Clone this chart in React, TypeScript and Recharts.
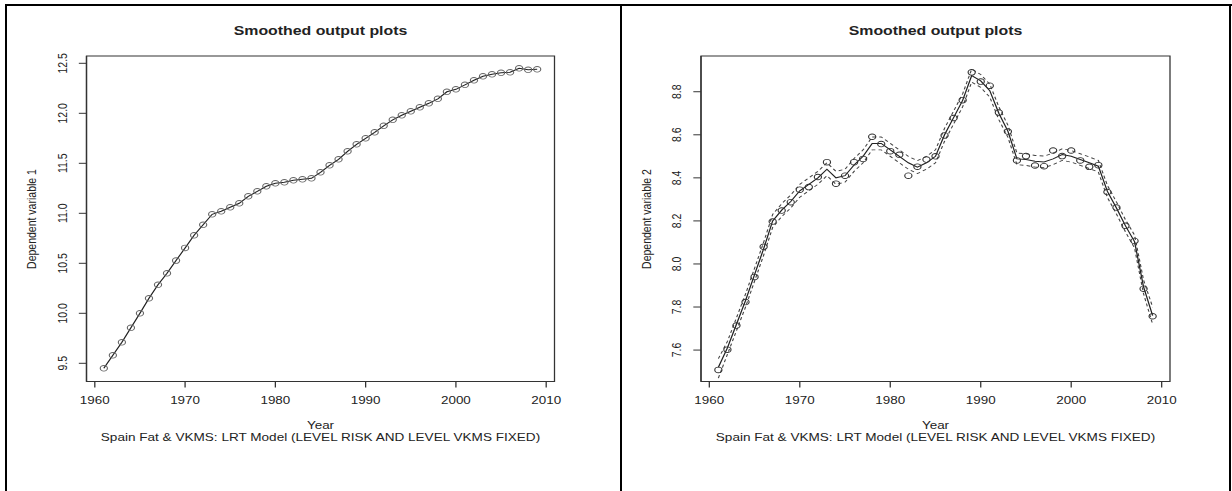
import { ComposedChart, Line, XAxis, YAxis, ReferenceArea } from 'recharts';

// observation years
const years = [
  1961, 1962, 1963, 1964, 1965, 1966, 1967, 1968, 1969, 1970,
  1971, 1972, 1973, 1974, 1975, 1976, 1977, 1978, 1979, 1980,
  1981, 1982, 1983, 1984, 1985, 1986, 1987, 1988, 1989, 1990,
  1991, 1992, 1993, 1994, 1995, 1996, 1997, 1998, 1999, 2000,
  2001, 2002, 2003, 2004, 2005, 2006, 2007, 2008, 2009,
];

// dependent variable 1 (observed ~ smoothed)
const depVar1 = [
  9.45, 9.58, 9.71, 9.855, 10.0, 10.15, 10.285, 10.4, 10.527, 10.654,
  10.78, 10.885, 10.99, 11.02, 11.06, 11.1, 11.17, 11.22, 11.27, 11.3,
  11.31, 11.33, 11.34, 11.35, 11.41, 11.48, 11.54, 11.62, 11.69, 11.75,
  11.81, 11.875, 11.935, 11.98, 12.02, 12.06, 12.1, 12.145, 12.215, 12.24,
  12.285, 12.33, 12.37, 12.39, 12.405, 12.41, 12.45, 12.435, 12.44,
];

// dependent variable 2
const observed2 = [
  7.508, 7.602, 7.714, 7.823, 7.94, 8.08, 8.197, 8.248, 8.287, 8.345,
  8.357, 8.404, 8.473, 8.373, 8.41, 8.473, 8.488, 8.591, 8.557, 8.524,
  8.507, 8.41, 8.452, 8.485, 8.5, 8.597, 8.678, 8.761, 8.89, 8.847,
  8.828, 8.703, 8.615, 8.481, 8.501, 8.457, 8.454, 8.527, 8.501, 8.527,
  8.481, 8.451, 8.459, 8.334, 8.262, 8.177, 8.107, 7.885, 7.757,
];
const smoothed2 = [
  7.52, 7.61, 7.72, 7.83, 7.95, 8.07, 8.2, 8.25, 8.29, 8.34,
  8.37, 8.4, 8.44, 8.4, 8.41, 8.46, 8.5, 8.56, 8.56, 8.53,
  8.5, 8.47, 8.45, 8.47, 8.5, 8.6, 8.68, 8.76, 8.875, 8.85,
  8.805, 8.7, 8.617, 8.488, 8.485, 8.477, 8.474, 8.488, 8.508, 8.5,
  8.485, 8.47, 8.454, 8.337, 8.26, 8.177, 8.104, 7.893, 7.76,
];
const upper2 = [
  7.56, 7.64, 7.75, 7.86, 7.98, 8.1, 8.23, 8.28, 8.32, 8.37,
  8.4, 8.43, 8.47, 8.43, 8.44, 8.49, 8.53, 8.59, 8.59, 8.56,
  8.53, 8.5, 8.48, 8.5, 8.53, 8.63, 8.71, 8.79, 8.905, 8.88,
  8.835, 8.73, 8.645, 8.515, 8.512, 8.504, 8.501, 8.515, 8.535, 8.527,
  8.512, 8.497, 8.481, 8.365, 8.288, 8.205, 8.134, 7.925, 7.8,
];
const lower2 = [
  7.47, 7.58, 7.69, 7.8, 7.92, 8.04, 8.17, 8.22, 8.26, 8.31,
  8.34, 8.37, 8.41, 8.37, 8.38, 8.43, 8.47, 8.53, 8.53, 8.5,
  8.47, 8.44, 8.42, 8.44, 8.47, 8.57, 8.65, 8.73, 8.845, 8.82,
  8.775, 8.67, 8.589, 8.461, 8.458, 8.45, 8.447, 8.461, 8.481, 8.473,
  8.458, 8.443, 8.427, 8.309, 8.232, 8.149, 8.074, 7.861, 7.72,
];

const yearTicks = [1960, 1970, 1980, 1990, 2000, 2010];
const ticks1 = [9.5, 10, 10.5, 11, 11.5, 12, 12.5];
const ticks2 = [7.6, 7.8, 8.0, 8.2, 8.4, 8.6, 8.8];

const data1 = years.map((year, i) => ({ year, v: depVar1[i] }));
const data2 = years.map((year, i) => ({
  year,
  obs: observed2[i],
  fit: smoothed2[i],
  hi: upper2[i],
  lo: lower2[i],
}));

const FONT = '"Liberation Sans", Arial, sans-serif';
const STRETCH = 1.28; // source image is stretched horizontally
const PLOT_TOP = 56;
const PLOT_BOTTOM = 381.5;
const H = 491;
const xDomain: [number, number] = [1959.08, 2010.92];
const subtitle = 'Spain Fat & VKMS: LRT Model (LEVEL RISK AND LEVEL VKMS FIXED)';

function YTick({ x, y, payload }: any) {
  return (
    <text
      x={x}
      y={y}
      transform={`rotate(-90, ${x}, ${y})`}
      textAnchor="middle"
      fontSize={10.5}
      fill="#222"
    >
      {Number(payload.value).toFixed(1)}
    </text>
  );
}

interface PanelProps {
  left: number;
  width: number;
  plotL: number;
  plotR: number;
  data: any[];
  yDomain: [number, number];
  yTicks: number[];
  yLabel: string;
  children: any;
}

function Panel({ left, width, plotL, plotR, data, yDomain, yTicks, yLabel, children }: PanelProps) {
  const plotW = plotR - plotL;
  const midY = (PLOT_TOP + PLOT_BOTTOM) / 2;
  return (
    <div
      style={{
        position: 'absolute',
        left,
        top: 0,
        width,
        height: H,
        transform: `scaleX(${STRETCH})`,
        transformOrigin: '0 0',
        fontFamily: FONT,
        color: '#222',
      }}
    >
      <div
        style={{
          position: 'absolute', left: plotL, width: plotW, top: 23.5,
          lineHeight: '15px', fontSize: 12.4, fontWeight: 'bold', textAlign: 'center',
        }}
      >
        Smoothed output plots
      </div>
      <div
        style={{
          position: 'absolute', left: plotL - 43.5 - 90, width: 180, top: midY - 7,
          lineHeight: '14px', fontSize: 10.5, textAlign: 'center', transform: 'rotate(-90deg)',
        }}
      >
        {yLabel}
      </div>
      <ComposedChart
        width={width}
        height={H}
        data={data}
        margin={{ top: PLOT_TOP, right: width - plotR, bottom: H - PLOT_BOTTOM - 30, left: plotL - 40 }}
      >
        <XAxis
          dataKey="year"
          type="number"
          domain={xDomain}
          ticks={yearTicks}
          interval={0}
          allowDataOverflow
          height={30}
          tickSize={6}
          tickMargin={9}
          stroke="#333"
          tick={{ fontSize: 10.5, fill: '#222' }}
        />
        <YAxis
          type="number"
          domain={yDomain}
          ticks={yTicks}
          interval={0}
          allowDataOverflow
          width={40}
          tickSize={6}
          tickMargin={9.5}
          stroke="#333"
          tick={(p: any) => <YTick {...p} />}
        />
        <ReferenceArea
          x1={xDomain[0]}
          x2={xDomain[1]}
          y1={yDomain[0]}
          y2={yDomain[1]}
          fill="none"
          stroke="#333"
          strokeWidth={1}
          ifOverflow="visible"
        />
        {children}
      </ComposedChart>
      <div
        style={{
          position: 'absolute', left: plotL, width: plotW, top: 418,
          lineHeight: '14px', fontSize: 10.5, textAlign: 'center',
        }}
      >
        Year
      </div>
      <div
        style={{
          position: 'absolute', left: plotL - 60, width: plotW + 120, top: 430,
          lineHeight: '14px', fontSize: 10.6, textAlign: 'center', whiteSpace: 'nowrap',
        }}
      >
        {subtitle}
      </div>
    </div>
  );
}

const border = { position: 'absolute' as const, background: '#000' };

export default function App() {
  return (
    <div
      style={{
        position: 'absolute', left: 0, top: 0, width: 1232, height: H,
        background: '#fff', overflow: 'hidden',
      }}
    >
      <Panel
        left={0}
        width={620 / STRETCH}
        plotL={86.5 / STRETCH}
        plotR={554.5 / STRETCH}
        data={data1}
        yDomain={[9.318, 12.573]}
        yTicks={ticks1}
        yLabel="Dependent variable 1"
      >
        <Line
          dataKey="v"
          type="linear"
          stroke="#222"
          strokeWidth={1}
          dot={{ r: 2.8, fill: 'none', stroke: '#666', strokeWidth: 0.9 }}
          activeDot={false}
          isAnimationActive={false}
        />
      </Panel>
      <Panel
        left={620}
        width={612 / STRETCH}
        plotL={81 / STRETCH}
        plotR={550 / STRETCH}
        data={data2}
        yDomain={[7.454, 8.966]}
        yTicks={ticks2}
        yLabel="Dependent variable 2"
      >
        <Line dataKey="hi" type="linear" stroke="#444" strokeWidth={0.9} strokeDasharray="3 2.5" dot={false} activeDot={false} isAnimationActive={false} />
        <Line dataKey="lo" type="linear" stroke="#444" strokeWidth={0.9} strokeDasharray="3 2.5" dot={false} activeDot={false} isAnimationActive={false} />
        <Line dataKey="fit" type="linear" stroke="#222" strokeWidth={1} dot={false} activeDot={false} isAnimationActive={false} />
        <Line
          dataKey="obs"
          type="linear"
          stroke="none"
          dot={{ r: 2.8, fill: 'none', stroke: '#333', strokeWidth: 0.9 }}
          activeDot={false}
          isAnimationActive={false}
        />
      </Panel>
      <div style={{ ...border, left: 5, top: 4, width: 1227, height: 2 }} />
      <div style={{ ...border, left: 5, top: 4, width: 2, height: H }} />
      <div style={{ ...border, left: 620, top: 4, width: 2, height: H }} />
      <div style={{ ...border, left: 1229, top: 4, width: 2, height: H }} />
    </div>
  );
}
